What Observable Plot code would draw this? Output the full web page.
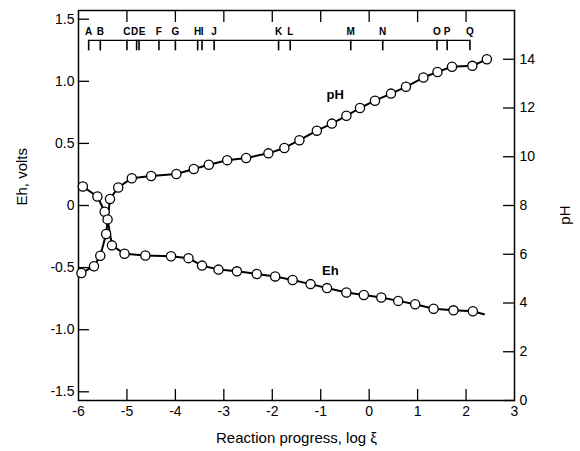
<!DOCTYPE html>
<html><head><meta charset="utf-8">
<script src="https://cdn.jsdelivr.net/npm/d3@7"></script>
<script src="https://cdn.jsdelivr.net/npm/@observablehq/plot@0.6"></script>
<style>body{margin:0;background:#fff}</style>
</head><body><div id="chart"></div>
<script>
// Eh curve (volts) vs reaction progress log ξ
const ehX = [-5.91,-5.61,-5.46,-5.40,-5.31,-5.05,-4.62,-4.09,-3.73,-3.45,-3.11,-2.73,-2.32,-1.94,-1.58,-1.21,-0.87,-0.47,-0.11,0.25,0.60,0.95,1.33,1.74,2.14];
const ehV = [0.153,0.072,-0.050,-0.112,-0.321,-0.389,-0.402,-0.408,-0.424,-0.484,-0.516,-0.530,-0.551,-0.571,-0.600,-0.633,-0.665,-0.701,-0.720,-0.741,-0.768,-0.795,-0.831,-0.844,-0.852];
const ehTailX = 2.37, ehTailV = -0.876;
// pH curve vs reaction progress
const phX = [-5.94,-5.68,-5.55,-5.43,-5.35,-5.18,-4.90,-4.50,-3.98,-3.62,-3.31,-2.93,-2.54,-2.08,-1.75,-1.44,-1.08,-0.77,-0.47,-0.19,0.12,0.45,0.76,1.12,1.41,1.71,2.13,2.43];
const phV = [5.23,5.51,5.94,6.83,8.27,8.74,9.12,9.21,9.29,9.50,9.67,9.86,9.95,10.14,10.36,10.68,11.07,11.36,11.68,12.00,12.30,12.59,12.87,13.25,13.48,13.69,13.73,14.00];
// lettered reaction stages along the top
const letters = ["A","B","C","D","E","F","G","H","I","J","K","L","M","N","O","P","Q"];
const letterX = [-5.79,-5.55,-5.0,-4.80,-4.75,-4.34,-4.0,-3.54,-3.45,-3.20,-1.87,-1.63,-0.38,0.28,1.40,1.61,2.08];
// axis ticks
const xTicks = [-6,-5,-4,-3,-2,-1,0,1,2,3];
const xInnerTicks = [-5,-4,-3,-2,-1,0,1,2];
const ehTicks = [-1.5,-1.0,-0.5,0,0.5,1.0,1.5];
const phTicks = [0,2,4,6,8,10,12,14];
const curveLabels = ["pH","Eh"];
const curveLabelX = [-0.70,-0.80];
const curveLabelV = [0.89,-0.524];

const EH_MAX = 1.57, PH_MID = 8;
const phToEh = p => (p - PH_MID) / PH_MID * EH_MAX;
const ehToPh = v => (v / EH_MAX) * PH_MID + PH_MID;
const LETTER_LINE = 1.33, LETTER_TICK = 1.245;

const eh = ehX.map((x,i)=>({x, v: ehV[i]}));
const ehLine = eh.concat([{x: ehTailX, v: ehTailV}]);
const ph = phX.map((x,i)=>({x, v: phToEh(phV[i])}));
const lt = letters.map((l,i)=>({l, x: letterX[i]}));
const cl = curveLabels.map((t,i)=>({t, x: curveLabelX[i], v: curveLabelV[i]}));

const fmtEh = v => v === 0 ? "0" : (v < 0 ? "-" : "") + Math.abs(v).toFixed(1);
const font = "Liberation Sans, Arial, sans-serif";

const chart = Plot.plot({
  width: 580, height: 451,
  marginLeft: 78, marginRight: 66, marginTop: 10, marginBottom: 51,
  style: {fontFamily: font, fontSize: "13px", color: "#000", background: "#fff"},
  x: {domain: [-6, 3], axis: null},
  y: {domain: [-EH_MAX, EH_MAX], axis: null},
  marks: [
    // inward ticks
    Plot.axisX({anchor: "bottom", ticks: xInnerTicks, tickSize: 11, dy: -11, tickFormat: () => "", label: null, strokeWidth: 1.3}),
    Plot.axisX({anchor: "top", ticks: xInnerTicks, tickSize: 11, dy: 11, tickFormat: () => "", label: null, strokeWidth: 1.3}),
    Plot.axisY({anchor: "left", ticks: ehTicks, tickSize: 11, dx: 11, tickFormat: () => "", label: null, strokeWidth: 1.3}),
    Plot.axisY({anchor: "right", ticks: phTicks.map(phToEh), tickSize: 12, dx: -12, tickFormat: () => "", label: null, strokeWidth: 1.3}),
    // tick labels
    Plot.axisX({anchor: "bottom", ticks: xTicks, tickSize: 0, tickPadding: 6, tickFormat: v => (v < 0 ? "-" : "") + Math.abs(v), label: null, fontSize: 14}),
    Plot.axisY({anchor: "left", ticks: ehTicks, tickSize: 0, tickPadding: 4, tickFormat: fmtEh, label: null, fontSize: 14}),
    Plot.axisY({anchor: "right", ticks: phTicks.map(phToEh), tickSize: 0, tickPadding: 5, tickFormat: v => String(Math.round(ehToPh(v))), label: null, fontSize: 14}),
    Plot.frame({stroke: "#000", strokeWidth: 1.5}),
    // lettered stage markers
    Plot.ruleY([LETTER_LINE], {x1: letterX[0], x2: letterX[letterX.length-1], strokeWidth: 1.3}),
    Plot.ruleX(lt, {x: "x", y1: LETTER_LINE, y2: LETTER_TICK, strokeWidth: 1.6}),
    Plot.text(lt.filter(d => d.l !== "D" && d.l !== "E"), {x: "x", y: LETTER_LINE, dy: -9, text: "l", fontSize: 10, fontWeight: "bold"}),
    Plot.text(lt.filter(d => d.l === "D"), {x: "x", y: LETTER_LINE, dy: -9, dx: -2, text: "l", fontSize: 10, fontWeight: "bold"}),
    Plot.text(lt.filter(d => d.l === "E"), {x: "x", y: LETTER_LINE, dy: -9, dx: 3, text: "l", fontSize: 10, fontWeight: "bold"}),
    // curves
    Plot.line(ehLine, {x: "x", y: "v", stroke: "#000", strokeWidth: 2}),
    Plot.line(ph, {x: "x", y: "v", stroke: "#000", strokeWidth: 2}),
    Plot.dot(eh, {x: "x", y: "v", r: 4.6, fill: "#fff", stroke: "#000", strokeWidth: 1.3}),
    Plot.dot(ph, {x: "x", y: "v", r: 4.6, fill: "#fff", stroke: "#000", strokeWidth: 1.3}),
    Plot.text(cl, {x: "x", y: "v", text: "t", fontSize: 13, fontWeight: "bold"}),
    // axis titles
    Plot.text(["Eh, volts"], {frameAnchor: "left", dx: -56, rotate: -90, fontSize: 15}),
    Plot.text(["pH"], {frameAnchor: "right", dx: 51, rotate: -90, fontSize: 15}),
    Plot.text(["Reaction progress, log ξ"], {frameAnchor: "bottom", dy: 42, fontSize: 15})
  ]
});
document.getElementById("chart").appendChild(chart);
</script>
</body></html>
